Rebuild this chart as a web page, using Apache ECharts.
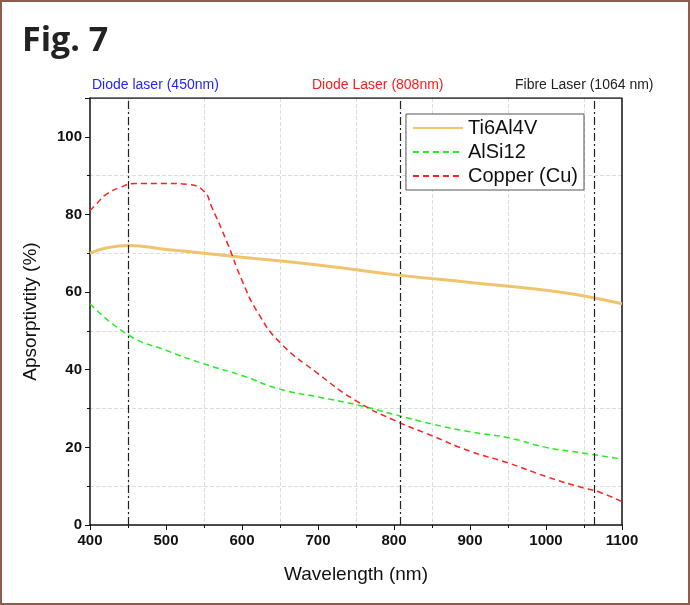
<!DOCTYPE html>
<html>
<head>
<meta charset="utf-8">
<script src="https://cdn.jsdelivr.net/npm/echarts@6/dist/echarts.min.js"></script>
<style>
  html, body { margin: 0; padding: 0; background: #fff; }
  #main { width: 690px; height: 605px; box-sizing: border-box; border: 2px solid #8e5c4e; }
</style>
</head>
<body>
<div id="main"></div>
<script>
// 数据
var tiData = [[400, 70], [420, 71.3], [450, 72], [500, 71], [550, 70], [600, 69], [700, 67], [800, 64.5], [900, 62.5], [1000, 60.5], [1050, 59], [1100, 57]];
var alData = [[400, 57], [450, 49], [500, 45], [550, 41.5], [600, 38.5], [650, 35], [700, 33], [750, 31], [800, 28.5], [850, 26], [900, 24], [950, 22.5], [1000, 20], [1050, 18.5], [1100, 17]];
var cuData = [[400, 81], [410, 83], [420, 85], [440, 87], [460, 88], [500, 88], [530, 87.7], [550, 86], [560, 82], [580, 73], [600, 63], [620, 55], [650, 47], [700, 39], [750, 32], [800, 27], [850, 23], [900, 19], [950, 16], [1000, 12.5], [1050, 9.5], [1070, 8.5], [1100, 6]];
var laserLines = [450, 808, 1064];

var myChart = echarts.init(document.getElementById('main'));
var font = 'Liberation Sans';
var option = {
    animation: false,
    textStyle: { fontFamily: font },
    grid: { left: 88, right: 66, top: 96, bottom: 78 },
    graphic: [
        { type: 'text', left: 20, top: 22, style: { text: 'Fig. 7', font: 'bold 34px "Open Sans"', fill: '#222' } },
        { type: 'text', left: 90, top: 76, style: { text: 'Diode laser (450nm)', font: '14px ' + font, fill: '#2323ff' } },
        { type: 'text', left: 310, top: 76, style: { text: 'Diode Laser (808nm)', font: '14px ' + font, fill: '#ff1a1a' } },
        { type: 'text', left: 513, top: 76, style: { text: 'Fibre Laser (1064 nm)', font: '14px ' + font, fill: '#222' } }
    ],
    legend: {
        right: 104, top: 112, orient: 'vertical', itemGap: 4, itemWidth: 50, itemHeight: 10,
        backgroundColor: '#fff', borderColor: '#555', borderWidth: 1, padding: [4, 6],
        textStyle: { fontSize: 20, color: '#111', fontFamily: font },
        itemStyle: { opacity: 0 },
        data: ['Ti6Al4V', 'AlSi12', 'Copper (Cu)']
    },
    xAxis: {
        type: 'value', min: 400, max: 1100, interval: 100,
        name: 'Wavelength (nm)', nameLocation: 'middle', nameGap: 40,
        nameTextStyle: { fontSize: 19, color: '#111' },
        axisLine: { lineStyle: { color: '#111', width: 1.5 } },
        axisTick: { length: 5, lineStyle: { color: '#111' } },
        minorTick: { show: true, splitNumber: 2, length: 3, lineStyle: { color: '#111' } },
        axisLabel: { fontSize: 15, fontWeight: 'bold', color: '#111', formatter: function (v) { return String(v); } },
        splitLine: { show: false },
        minorSplitLine: { show: true, lineStyle: { color: '#ddd', type: 'dashed' } }
    },
    yAxis: {
        type: 'value', min: 0, max: 110, interval: 20,
        name: 'Apsorptivtity (%)', nameLocation: 'middle', nameGap: 50,
        nameTextStyle: { fontSize: 19, color: '#111' },
        axisLine: { show: true, lineStyle: { color: '#111', width: 1.5 } },
        axisTick: { show: true, length: 5, lineStyle: { color: '#111' } },
        minorTick: { show: true, splitNumber: 2, length: 3, lineStyle: { color: '#111' } },
        axisLabel: { fontSize: 15, fontWeight: 'bold', color: '#111', showMaxLabel: false },
        splitLine: { show: false },
        minorSplitLine: { show: true, lineStyle: { color: '#ddd', type: 'dashed' } }
    },
    series: [
        {
            name: 'Ti6Al4V', type: 'line', data: tiData, smooth: true, symbol: 'none',
            itemStyle: { color: '#f0c36d' }, lineStyle: { color: '#f0c36d', width: 3 },
            markLine: {
                silent: true, symbol: 'none', label: { show: false },
                lineStyle: { color: '#222', type: [8, 3, 2, 3], width: 1.2 },
                data: laserLines.map(function (v) { return { xAxis: v }; })
            }
        },
        {
            name: 'AlSi12', type: 'line', data: alData, smooth: true, symbol: 'none',
            itemStyle: { color: '#22ee22' }, lineStyle: { color: '#22ee22', width: 1.5, type: [6, 4] }
        },
        {
            name: 'Copper (Cu)', type: 'line', data: cuData, smooth: true, symbol: 'none',
            itemStyle: { color: '#ff2020' }, lineStyle: { color: '#ff2020', width: 1.5, type: [6, 4] }
        },
        {
            // 框线 (top/right border)
            type: 'line', data: [[400, 110], [1100, 110], [1100, 0]], symbol: 'none', silent: true,
            lineStyle: { color: '#111', width: 1.5 }, z: 1
        }
    ]
};
myChart.setOption(option);
</script>
</body>
</html>
